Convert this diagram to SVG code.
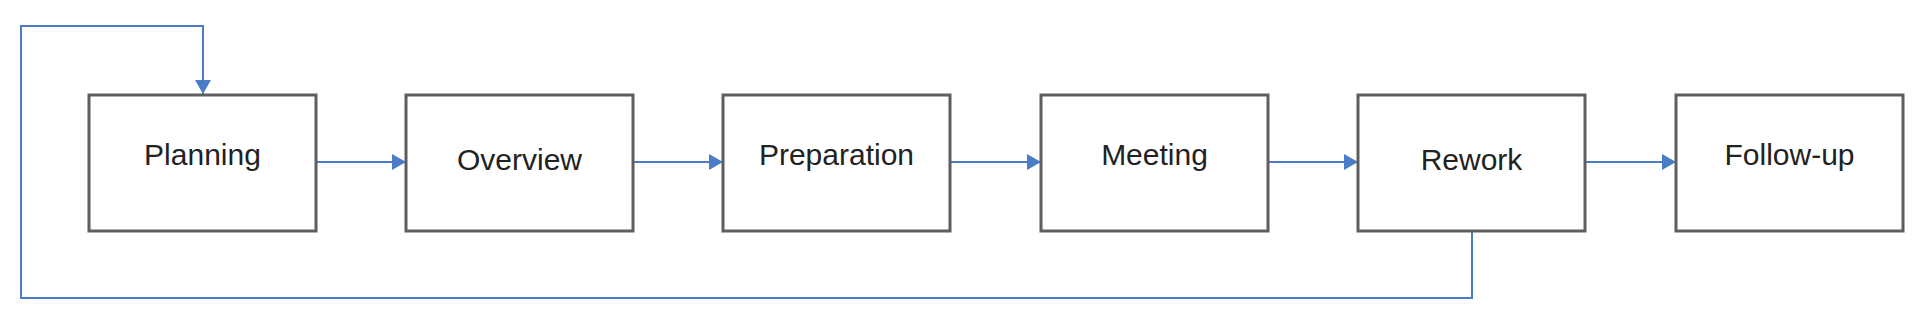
<svg xmlns="http://www.w3.org/2000/svg" width="1920" height="332" viewBox="0 0 1920 332">
<defs>
<marker id="ah" viewBox="0 0 14 16" refX="14" refY="8" markerWidth="14" markerHeight="16" markerUnits="userSpaceOnUse" orient="auto">
<path d="M0,0 L14,8 L0,16 Z" fill="#4a7cc8"/>
</marker>
</defs>
<style>
.box{fill:#ffffff;stroke:#5e5e5e;stroke-width:3}
.lbl{font-family:"Liberation Sans",Arial,sans-serif;font-size:30px;fill:#222222;text-anchor:middle}
.edge{fill:none;stroke:#4a7cc8;stroke-width:2}
</style>
<rect width="1920" height="332" fill="#ffffff"/>
<g id="connectors">
<path class="edge" d="M316,162 L406,162" marker-end="url(#ah)"/>
<path class="edge" d="M633,162 L723,162" marker-end="url(#ah)"/>
<path class="edge" d="M950,162 L1041,162" marker-end="url(#ah)"/>
<path class="edge" d="M1268,162 L1358,162" marker-end="url(#ah)"/>
<path class="edge" d="M1585,162 L1676,162" marker-end="url(#ah)"/>
<path class="edge" d="M1472,230 L1472,298 L21,298 L21,26 L203,26 L203,94" marker-end="url(#ah)"/>
</g>
<g id="planning"><rect class="box" x="89" y="95" width="227" height="136"/><text class="lbl" x="202.5" y="165">Planning</text></g>
<g id="overview"><rect class="box" x="406" y="95" width="227" height="136"/><text class="lbl" x="519.5" y="170">Overview</text></g>
<g id="preparation"><rect class="box" x="723" y="95" width="227" height="136"/><text class="lbl" x="836.5" y="165">Preparation</text></g>
<g id="meeting"><rect class="box" x="1041" y="95" width="227" height="136"/><text class="lbl" x="1154.5" y="165">Meeting</text></g>
<g id="rework"><rect class="box" x="1358" y="95" width="227" height="136"/><text class="lbl" x="1471.5" y="170">Rework</text></g>
<g id="followup"><rect class="box" x="1676" y="95" width="227" height="136"/><text class="lbl" x="1789.5" y="165">Follow-up</text></g>
</svg>
